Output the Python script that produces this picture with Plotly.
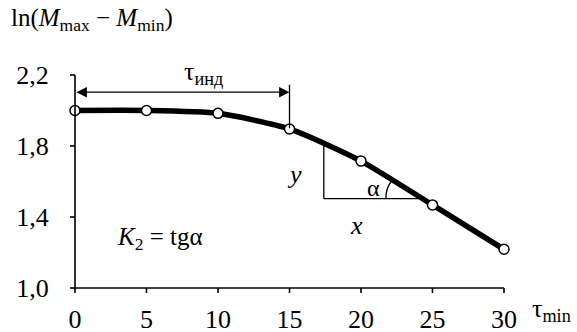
import plotly.graph_objects as go

tau = [0, 5, 10, 15, 20, 25, 30]
ln_dm = [2.0, 2.0, 1.984, 1.896, 1.715, 1.468, 1.218]
x_ticks = [0, 5, 10, 15, 20, 25, 30]
y_ticks = [1.0, 1.4, 1.8, 2.2]
y_tick_labels = ["1,0", "1,4", "1,8", "2,2"]
x_range = [0, 30]
y_range = [1.0, 2.2]

FONT = "Liberation Serif"
LINE = dict(color="black", width=1.3)
AX = dict(color="black", width=1.6)
fig = go.Figure()
fig.add_trace(go.Scatter(x=tau, y=ln_dm, mode="lines", line=dict(color="black", width=5.5, shape="spline", smoothing=0.6),
                         hoverinfo="skip"))
fig.add_trace(go.Scatter(x=tau, y=ln_dm, mode="markers", cliponaxis=False,
                         marker=dict(size=10, color="white", line=dict(color="black", width=1.5))))

# axis lines and tick marks (paper coordinates so they are not clipped)
fig.add_shape(type="line", xref="paper", yref="paper", x0=0, x1=1, y0=0, y1=0, line=AX)
fig.add_shape(type="line", xref="paper", yref="paper", x0=0, x1=0, y0=0, y1=1, line=AX)
for v in x_ticks:
    f = (v - x_range[0]) / (x_range[1] - x_range[0])
    fig.add_shape(type="line", xref="paper", yref="paper", ysizemode="pixel", yanchor=0,
                  x0=f, x1=f, y0=0, y1=-5, line=AX)
for v in y_ticks:
    f = (v - y_range[0]) / (y_range[1] - y_range[0])
    fig.add_shape(type="line", xref="paper", yref="paper", xsizemode="pixel", xanchor=0,
                  x0=0, x1=-5, y0=f, y1=f, line=AX)

fig.add_annotation(x=15, y=2.103, ax=0, ay=2.103, xref="x", yref="y", axref="x", ayref="y",
                   showarrow=True, arrowhead=2, arrowside="end+start", arrowsize=1.6, arrowwidth=1.3,
                   arrowcolor="black", text="")
fig.add_annotation(x=9.0, y=2.11, xref="x", yref="y", text="τ<sub>инд</sub>", showarrow=False,
                   yanchor="bottom", font=dict(family=FONT, size=26, color="black"))
fig.add_shape(type="line", x0=15, x1=15, y0=2.145, y1=1.9, line=LINE)

fig.add_shape(type="line", x0=17.4, x1=17.4, y0=1.82, y1=1.503, line=LINE)
fig.add_shape(type="line", x0=17.4, x1=24.0, y0=1.503, y1=1.503, line=LINE)
fig.add_shape(type="path", path="M 21.75,1.503 Q 21.7,1.56 22.2,1.61", line=LINE)

fig.add_annotation(x=15.35, y=1.64, text="<i>y</i>", showarrow=False, font=dict(family=FONT, size=26, color="black"))
fig.add_annotation(x=19.7, y=1.35, text="<i>x</i>", showarrow=False, font=dict(family=FONT, size=26, color="black"))
fig.add_annotation(x=20.85, y=1.565, text="α", showarrow=False, font=dict(family=FONT, size=24, color="black"))
fig.add_annotation(x=5.95, y=1.28, text="<i>K</i><sub>2</sub> = tgα", showarrow=False,
                   font=dict(family=FONT, size=25, color="black"))

fig.add_annotation(x=0, y=1, xref="paper", yref="paper", xshift=-66, yshift=38,
                   text="ln(<i>M</i><sub>max</sub> − <i>M</i><sub>min</sub>)", showarrow=False,
                   xanchor="left", yanchor="bottom", font=dict(family=FONT, size=25, color="black"))
fig.add_annotation(x=1, y=0, xref="paper", yref="paper", xshift=26, yshift=-40,
                   text="τ<sub>min</sub>", showarrow=False, xanchor="left", yanchor="bottom",
                   font=dict(family=FONT, size=26, color="black"))

fig.update_layout(
    template="none",
    width=577, height=332, margin=dict(l=75, r=73, t=75, b=44, autoexpand=False),
    paper_bgcolor="white", plot_bgcolor="white", showlegend=False,
    font=dict(family=FONT, size=26, color="black"),
    xaxis=dict(range=x_range, tickvals=x_ticks, ticks="outside", ticklen=8, tickwidth=1,
               tickcolor="rgba(0,0,0,0)", showline=False, showgrid=False, zeroline=False,
               automargin=False, tickfont=dict(family=FONT, size=26, color="black")),
    yaxis=dict(range=y_range, tickvals=y_ticks, ticktext=y_tick_labels, ticks="outside", ticklen=20,
               tickwidth=1, tickcolor="rgba(0,0,0,0)", showline=False, showgrid=False, zeroline=False,
               automargin=False, tickfont=dict(family=FONT, size=26, color="black")),
)
fig.write_html("out.html")
